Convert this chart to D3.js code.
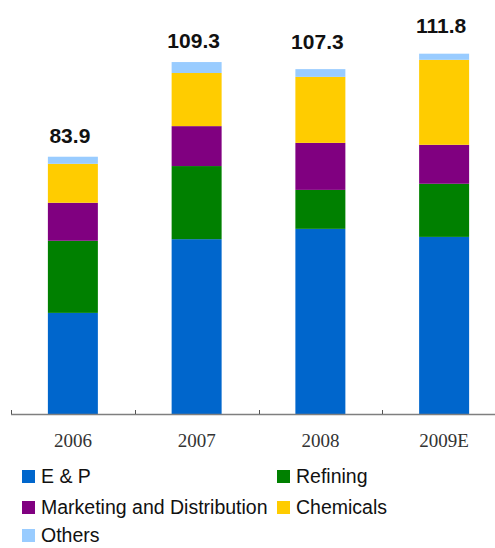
<!DOCTYPE html>
<html>
<head>
<meta charset="utf-8">
<script src="https://cdn.jsdelivr.net/npm/d3@7"></script>
<style>
  html, body { margin: 0; padding: 0; background: #fff; }
  svg { display: block; }
</style>
</head>
<body>
<svg id="chart" width="495" height="548"></svg>
<script>
// ---- data ----
const categories = ["2006", "2007", "2008", "2009E"];
const seriesNames = ["E & P", "Refining", "Marketing and Distribution", "Chemicals", "Others"];
const epValues = [31.4, 54.3, 57.5, 55.0];
const refiningValues = [22.4, 22.7, 12.1, 16.5];
const marketingValues = [11.8, 12.4, 14.6, 12.1];
const chemicalsValues = [12.1, 16.5, 20.5, 26.4];
const othersValues = [2.2, 3.4, 2.4, 1.9];
const totalLabels = ["83.9", "109.3", "107.3", "111.8"];

// ---- layout / style ----
const colors = ["#0066CC", "#008000", "#800080", "#FFCC00", "#99CCFF"];
const labelLift = [14, 14, 20, 21];
const baseY = 414;

const table = categories.map((c, i) => ({
  cat: c,
  "E & P": epValues[i],
  "Refining": refiningValues[i],
  "Marketing and Distribution": marketingValues[i],
  "Chemicals": chemicalsValues[i],
  "Others": othersValues[i]
}));

const svg = d3.select("#chart");

const x = d3.scaleBand().domain(categories).range([11, 506])
  .paddingInner(0.596).paddingOuter(0.298);
const y = d3.scaleLinear().domain([0, 120]).range([baseY, baseY - 120 * 3.22]);

const stack = d3.stack().keys(seriesNames);
const layers = stack(table);

svg.append("g").selectAll("g").data(layers).join("g")
  .attr("fill", (d, i) => colors[i])
  .selectAll("rect").data(d => d).join("rect")
  .attr("x", d => x(d.data.cat))
  .attr("width", x.bandwidth())
  .attr("y", d => y(d[1]))
  .attr("height", d => y(d[0]) - y(d[1]));

// axis
const step = x.step();
const ax = svg.append("g");
ax.append("line").attr("x1", 11).attr("x2", 495).attr("y1", baseY + 0.5).attr("y2", baseY + 0.5)
  .attr("stroke", "#7f7f7f").attr("stroke-width", 1.3);
ax.selectAll("line.tick").data(categories).join("line").attr("class", "tick")
  .attr("x1", d => Math.round(x(d) - x.paddingOuter() * step) + 0.5)
  .attr("x2", d => Math.round(x(d) - x.paddingOuter() * step) + 0.5)
  .attr("y1", baseY - 4).attr("y2", baseY)
  .attr("stroke", "#555").attr("stroke-width", 1);
ax.selectAll("text").data(categories).join("text")
  .attr("x", d => x(d) + x.bandwidth() / 2)
  .attr("y", 447)
  .attr("text-anchor", "middle")
  .attr("font-family", "'Liberation Serif', 'DejaVu Serif', serif")
  .attr("font-size", 19)
  .attr("fill", "#333")
  .text(d => d);

// total labels
const tops = layers[layers.length - 1];
svg.append("g").selectAll("text").data(tops).join("text")
  .attr("x", d => x(d.data.cat) + x.bandwidth() / 2 - 3)
  .attr("y", (d, i) => y(d[1]) - labelLift[i])
  .attr("text-anchor", "middle")
  .attr("font-family", "'Liberation Sans', Arial, sans-serif")
  .attr("font-weight", "bold")
  .attr("font-size", 21)
  .attr("fill", "#111")
  .text((d, i) => totalLabels[i]);

// legend
const legendPos = [
  {col: 0, row: 0}, {col: 1, row: 0},
  {col: 0, row: 1}, {col: 1, row: 1},
  {col: 0, row: 2}
];
const colX = [22, 277];
const rowY = [476, 507, 535];
const lg = svg.append("g").selectAll("g").data(seriesNames).join("g")
  .attr("transform", (d, i) => `translate(${colX[legendPos[i].col]},${rowY[legendPos[i].row]})`);
lg.append("rect").attr("x", 0).attr("y", -6).attr("width", 13).attr("height", 13)
  .attr("fill", (d, i) => colors[i]);
lg.append("text").attr("x", 19).attr("y", 6.5)
  .attr("font-family", "'Liberation Sans', Arial, sans-serif")
  .attr("font-size", 19.5)
  .attr("fill", "#111")
  .text(d => d);
</script>
</body>
</html>
